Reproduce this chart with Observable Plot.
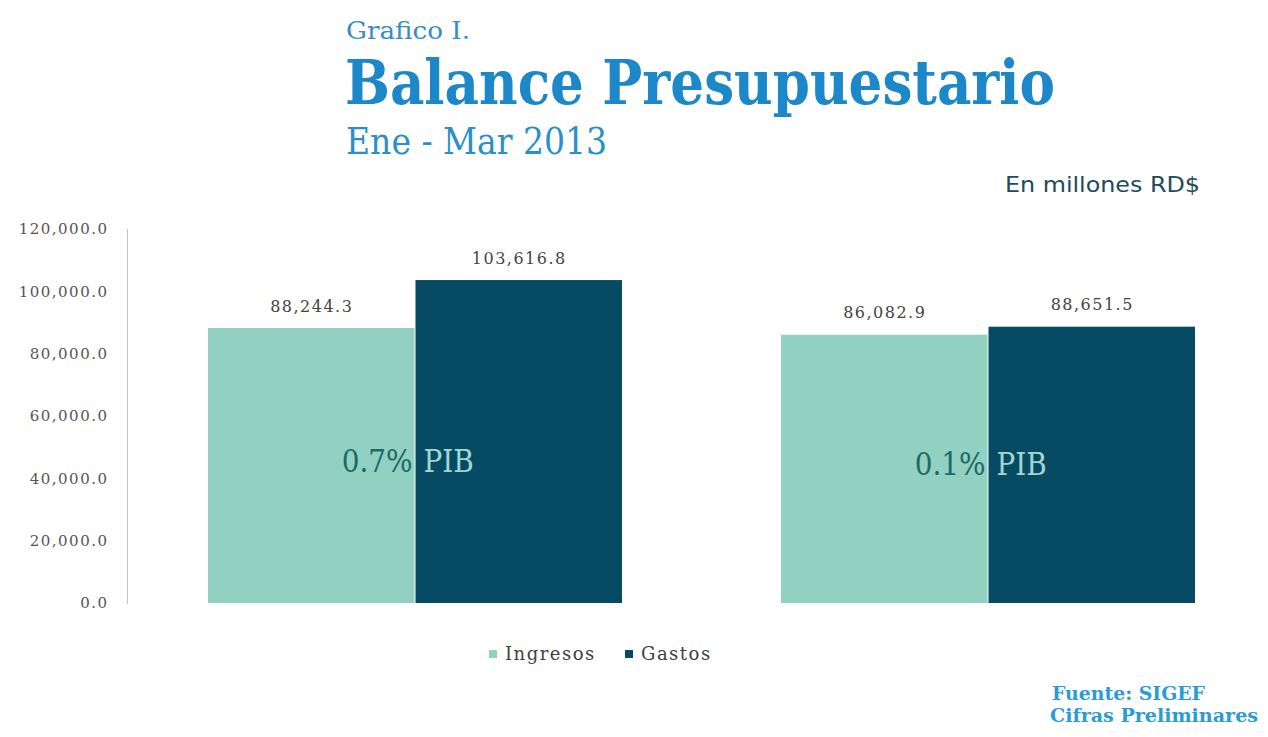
<!DOCTYPE html>
<html>
<head>
<meta charset="utf-8">
<script src="https://cdn.jsdelivr.net/npm/d3@7"></script>
<script src="https://cdn.jsdelivr.net/npm/@observablehq/plot@0.6"></script>
<style>
  html, body { margin: 0; padding: 0; background: #fff; }
  #wrap { position: relative; width: 1268px; height: 737px; overflow: hidden; }
  .t { position: absolute; white-space: nowrap; line-height: 1; transform-origin: left top; }
  .slab { font-family: "DejaVu Serif Condensed", "DejaVu Serif", serif; font-stretch: condensed; }
  #chart { position: absolute; left: 0; top: 215px; }
  .vals text, .ticks text { letter-spacing: 1.5px; }
  .leg { position: absolute; top: 643px; white-space: nowrap; line-height: 1.2;
         font-family: "DejaVu Serif", serif; font-size: 18px; color: #404040; letter-spacing: 1.5px; }
  .leg span.sw { display: inline-block; width: 8px; height: 8px; margin-right: 8px; vertical-align: 2px; }
</style>
</head>
<body>
<div id="wrap">
  <div class="t slab" id="t0" style="left:346px; top:18px; font-size:25px; color:#3a8dc4;">Grafico I.</div>
  <div class="t slab" id="t1" style="left:345px; top:52px; font-size:62px; color:#1c88c9; font-weight:bold;">Balance Presupuestario</div>
  <div class="t slab" id="t2" style="left:346px; top:123px; font-size:37px; color:#2a8fca;">Ene - Mar 2013</div>
  <div class="t" id="t3" style="left:1005px; top:174px; font-size:22px; color:#1e4b5b; font-family:'DejaVu Sans Condensed','DejaVu Sans',sans-serif; font-stretch:condensed;">En millones RD$</div>
  <div id="chart"></div>
  <div id="legend"></div>
  <div class="t slab" id="t4" style="left:1052px; top:684px; font-size:19px; color:#2b9bd8; font-weight:bold;">Fuente: SIGEF</div>
  <div class="t slab" id="t5" style="left:1050px; top:706px; font-size:19px; color:#2b9bd8; font-weight:bold;">Cifras Preliminares</div>
</div>
<script>
// ---- Data ----
const groups = ["Grupo 1", "Grupo 2"];
const series = ["Ingresos", "Gastos"];
const ingresos = [88244.3, 86082.9];
const gastos = [103616.8, 88651.5];
const pibPct = ["0.7%", "0.1%"];
const yTicks = [0, 20000, 40000, 60000, 80000, 100000, 120000];
const colors = ["#92d1c1", "#064b63"];

// ---- Tables built from the arrays ----
const rowsI = groups.map((g, i) => ({group: g, serie: series[0], value: ingresos[i]}));
const rowsG = groups.map((g, i) => ({group: g, serie: series[1], value: gastos[i]}));
const pibRows = groups.map((g, i) => ({group: g, pct: pibPct[i], ingresos: ingresos[i]}));

const fmt = d3.format(",.1f");
const half = 207.5; // half of the band width (each group = two adjacent bars)

const chart = Plot.plot({
  width: 1268,
  height: 400,
  marginTop: 14,
  marginBottom: 12,
  marginLeft: 127,
  marginRight: 60,
  style: {fontFamily: "'DejaVu Serif',serif", background: "transparent"},
  x: {type: "band", domain: groups, range: [207, 1196], paddingInner: 0.277, paddingOuter: 0, axis: null},
  y: {domain: [0, 120000], axis: null},
  marks: [
    Plot.frame({anchor: "left", stroke: "#c4c4c4"}),
    Plot.barY(rowsI, {x: "group", y: "value", fill: colors[0], insetRight: half}),
    Plot.barY(rowsG, {x: "group", y: "value", fill: colors[1], insetLeft: half}),
    Plot.axisY({ticks: yTicks, tickSize: 0, tickPadding: 19, tickFormat: fmt, label: null,
                fill: "#555", fontSize: 15, className: "ticks"}),
    Plot.text(rowsI, {x: "group", y: "value", text: d => fmt(d.value), dx: -half / 2, dy: -22,
                      fill: "#444", fontSize: 16, className: "vals"}),
    Plot.text(rowsG, {x: "group", y: "value", text: d => fmt(d.value), dx: half / 2, dy: -22,
                      fill: "#444", fontSize: 16, className: "vals"}),
    Plot.text(pibRows, {x: "group", y: d => d.ingresos / 2, text: "pct", textAnchor: "end", dx: -3, dy: -4,
                        fill: "#1b6a68", fontSize: 31, fontFamily: "'DejaVu Serif Condensed','DejaVu Serif',serif"}),
    Plot.text(pibRows, {x: "group", y: d => d.ingresos / 2, text: () => "PIB", textAnchor: "start", dx: 8, dy: -4,
                        fill: "#a0d7cf", fontSize: 31, fontFamily: "'DejaVu Serif Condensed','DejaVu Serif',serif"})
  ]
});
document.getElementById("chart").appendChild(chart);

// ---- Legend ----
const legend = document.getElementById("legend");
const legLeft = [489, 625];
series.forEach((s, i) => {
  const item = document.createElement("div");
  item.className = "leg";
  item.style.left = legLeft[i] + "px";
  item.innerHTML = `<span class="sw" style="background:${colors[i]}"></span>${s}`;
  legend.appendChild(item);
});

// ---- Fit text widths to the reference ----
function fit(id, w) {
  const el = document.getElementById(id);
  const cw = el.getBoundingClientRect().width;
  el.style.transform = `scaleX(${w / cw})`;
}
fit("t0", 124);
fit("t1", 710);
fit("t2", 261);
fit("t3", 195);
fit("t4", 153);
fit("t5", 208);
</script>
</body>
</html>
